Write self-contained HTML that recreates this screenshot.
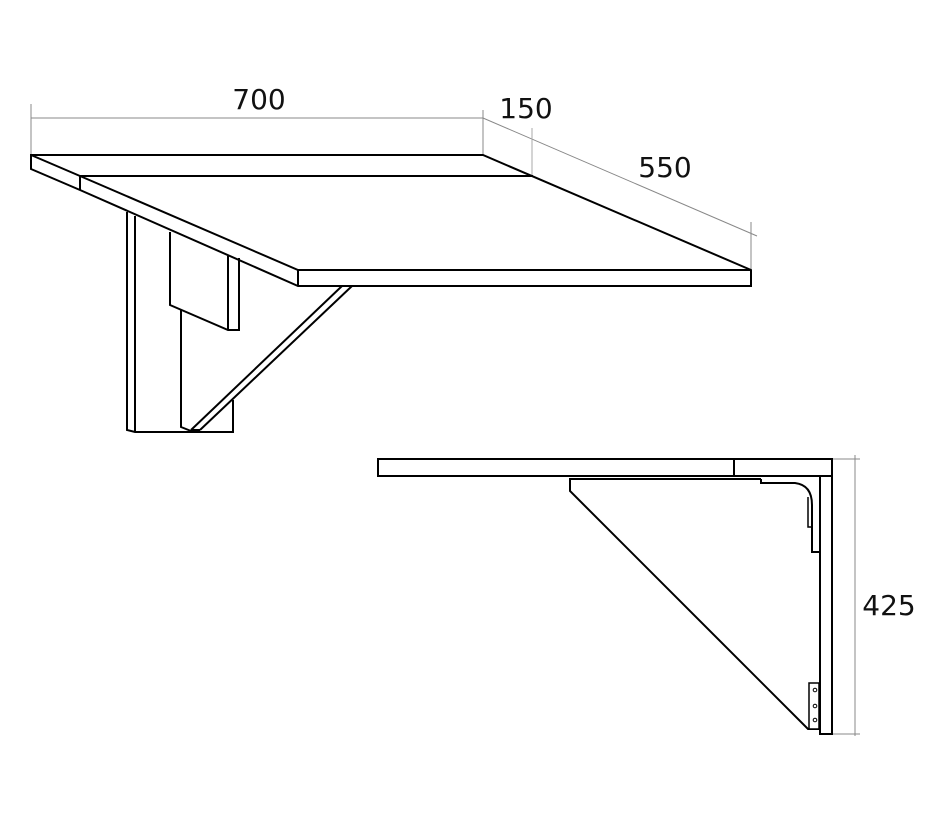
<!DOCTYPE html>
<html><head><meta charset="utf-8"><style>html,body{margin:0;padding:0;background:#fff}svg{display:block}</style></head>
<body>
<svg width="950" height="830" viewBox="0 0 950 830" xmlns="http://www.w3.org/2000/svg">
<g fill="none" stroke="#888" stroke-width="1">
<line x1="31" y1="118" x2="483" y2="118"/>
<line x1="31" y1="104" x2="31" y2="155"/>
<line x1="483" y1="110" x2="483" y2="155"/>
<line x1="483" y1="118" x2="757" y2="236"/>
<line x1="532" y1="128" x2="532" y2="176" stroke="#aaa"/>
<line x1="751" y1="222" x2="751" y2="269"/>
<line x1="855" y1="455" x2="855" y2="736"/>
<line x1="832" y1="459" x2="860" y2="459"/>
<line x1="832" y1="734" x2="860" y2="734"/>
</g>
<g fill="none" stroke="#000" stroke-width="2" stroke-linejoin="miter">
<polygon points="31,155 483,155 751,270 751,286 298,286 80,190 31,169" fill="#fff"/>
<polyline points="31,155 80,176 298,270 751,270"/>
<line x1="80" y1="176" x2="533" y2="176"/>
<line x1="80" y1="176" x2="80" y2="190"/>
<line x1="298" y1="270" x2="298" y2="286"/>
<polyline points="127,212 127,430 135,432 233,432 233,400"/>
<line x1="135" y1="216" x2="135" y2="432"/>
<polyline points="170,232 170,305 228,330 239,330 239,258"/>
<line x1="228" y1="256" x2="228" y2="330"/>
<polyline points="181,310 181,427 191,431"/>
<line x1="342" y1="286" x2="191" y2="430"/>
<line x1="352" y1="286" x2="200" y2="430"/>
<line x1="191" y1="430" x2="200" y2="430"/>
<rect x="378" y="459" width="454" height="17"/>
<line x1="734" y1="459" x2="734" y2="476"/>
<polyline points="820,476 820,734 832,734 832,476"/>
<polyline points="761,479 570,479 570,491 808,729 820,729"/>
<path d="M761,479 L761,483 L795,483 Q812,485 812,505 L812,552 L820,552"/>
<path d="M808,497 L808,527 L812,527" stroke-width="1.5"/>
</g>
<rect x="809" y="683" width="10" height="46" fill="#fff" stroke="#000" stroke-width="1.5"/>
<g fill="none" stroke="#000" stroke-width="1"><circle cx="815" cy="690" r="1.8"/><circle cx="815" cy="706" r="1.8"/><circle cx="815" cy="720" r="1.8"/></g>
<g font-family="'DejaVu Sans','Liberation Sans',sans-serif" font-size="28" fill="#111">
<text x="259" y="109" text-anchor="middle">700</text>
<text x="526" y="118" text-anchor="middle">150</text>
<text x="665" y="177" text-anchor="middle">550</text>
<text x="889" y="615" text-anchor="middle">425</text>
</g>
</svg>
</body></html>
